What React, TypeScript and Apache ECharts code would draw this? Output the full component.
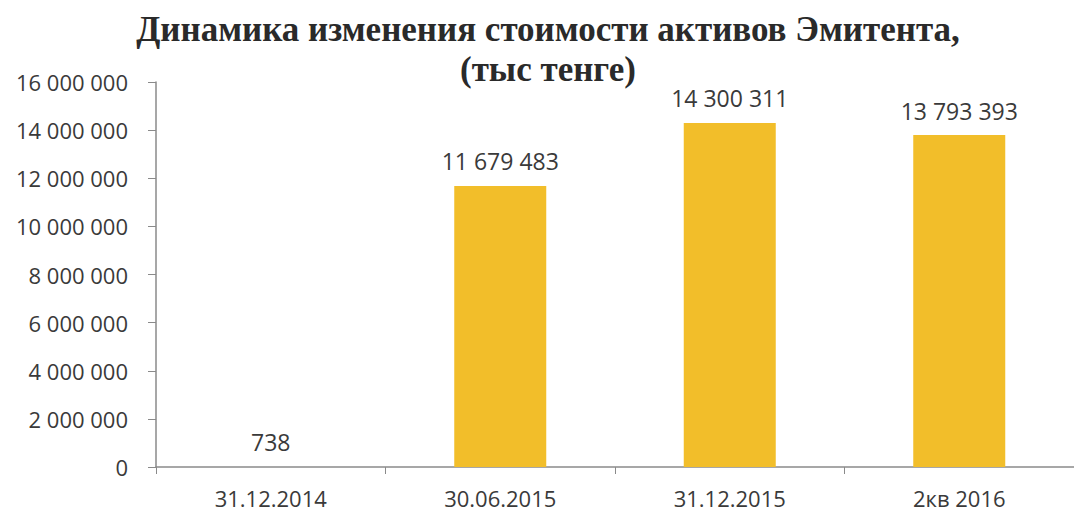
import React, { useEffect, useRef } from "react";
import * as echarts from "echarts";

const categories = ["31.12.2014", "30.06.2015", "31.12.2015", "2кв 2016"];
const values = [738, 11679483, 14300311, 13793393];
const titleLines = ["Динамика изменения стоимости активов Эмитента,", "(тыс тенге)"];
const yMin = 0;
const yMax = 16000000;
const yInterval = 2000000;

const fmt = (v: number) => String(Math.round(v)).replace(/\B(?=(\d{3})+(?!\d))/g, " ");

export default function App() {
  const ref = useRef<HTMLDivElement>(null);
  useEffect(() => {
    if (!ref.current) return;
    const chart = echarts.init(ref.current, null, { renderer: "svg" });
    chart.setOption({
      animation: false,
      backgroundColor: "#ffffff",
      title: {
        text: titleLines.join("\n"),
        left: 543,
        textAlign: "center",
        top: 4,
        textStyle: {
          fontFamily: "Liberation Serif",
          fontWeight: "bold",
          fontSize: 35,
          lineHeight: 40,
          color: "#2a2a2a",
        },
      },
      grid: { left: 156, right: -10, top: 82, bottom: 46 },
      xAxis: {
        type: "category",
        data: categories,
        axisLine: { lineStyle: { color: "#8a8a8a", width: 1.5 } },
        axisTick: { show: true, length: 7, alignWithLabel: false, lineStyle: { color: "#8a8a8a" } },
        axisLabel: {
          margin: 19,
          fontFamily: "Open Sans",
          fontSize: 22,
          lineHeight: 24,
          color: "#3a3a3a",
        },
      },
      yAxis: {
        type: "value",
        min: yMin,
        max: yMax,
        interval: yInterval,
        splitLine: { show: false },
        axisLine: { show: true, lineStyle: { color: "#8a8a8a", width: 1.5 } },
        axisTick: { show: true, length: 8, lineStyle: { color: "#8a8a8a" } },
        axisLabel: {
          margin: 28,
          fontFamily: "Open Sans",
          fontSize: 22,
          color: "#3a3a3a",
          formatter: (v: number) => fmt(v),
        },
      },
      series: [
        {
          type: "bar",
          data: values,
          barWidth: 92,
          itemStyle: { color: "#F2BE2A" },
          label: {
            show: true,
            position: "top",
            distance: 13,
            fontFamily: "Open Sans",
            fontSize: 23,
            color: "#3a3a3a",
            formatter: (p: any) => fmt(p.value),
          },
        },
      ],
    });
    return () => chart.dispose();
  }, []);
  return (
    <div
      ref={ref}
      style={{ position: "absolute", left: 0, top: 0, width: 1074, height: 513 }}
    />
  );
}
